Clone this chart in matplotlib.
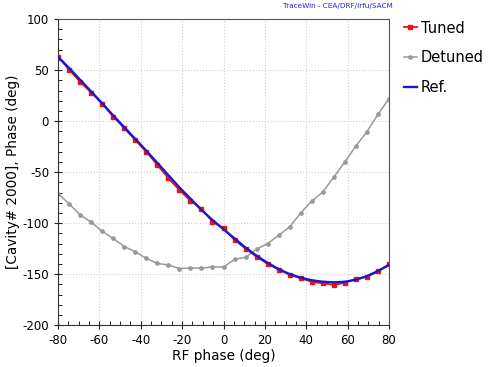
import matplotlib
matplotlib.use('Agg')
import matplotlib.pyplot as plt
import numpy as np
from matplotlib.ticker import MultipleLocator

plt.rcParams['font.family'] = 'DejaVu Sans'
plt.rcParams['axes.unicode_minus'] = False

# RF phase scan, 31 points from -80 to 80 deg
rf_phase = np.linspace(-80, 80, 31)

tuned = [63, 50.5, 38.5, 28, 17, 4.5, -7, -18.5, -30, -43, -56, -67.5, -78, -86,
         -98.5, -105, -116.5, -125, -133, -140, -145.5, -150.5, -154, -157.5,
         -159, -160.5, -158.5, -154.5, -152.5, -147, -140.5]

detuned = [-71, -81, -92, -99, -108, -115, -123, -128, -134.5, -139.5, -141,
           -144.5, -144, -144, -143, -143, -135.5, -133.5, -125.5, -120, -112,
           -103.5, -90, -78.5, -69.5, -55, -40, -24.5, -10.5, 6.5, 22]

ref = [63, 52, 40.5, 29, 17.5, 5.5, -6, -17.5, -29, -41, -53, -65, -76, -87,
       -97, -106, -115, -124, -132, -139, -145, -150, -153.5, -156, -157.5,
       -158, -157.5, -155.5, -152, -147, -141]

fig = plt.figure(figsize=(4.88, 3.67), dpi=100)
ax = fig.add_axes([0.119, 0.114, 0.678, 0.834])

ax.plot(rf_phase, tuned, color='#ee1111', lw=1.3, marker='s', ms=2.2,
        label='Tuned', zorder=3)
ax.plot(rf_phase, detuned, color='#999999', lw=1.1, marker='o', ms=2.4,
        label='Detuned', zorder=2)
ax.plot(rf_phase, ref, color='#1a1acc', lw=1.7, label='Ref.', zorder=4)

ax.set_xlim(-80, 80)
ax.set_ylim(-200, 100)
ax.xaxis.set_major_locator(MultipleLocator(20))
ax.xaxis.set_minor_locator(MultipleLocator(5))
ax.yaxis.set_major_locator(MultipleLocator(50))
ax.yaxis.set_minor_locator(MultipleLocator(10))
ax.tick_params(which='major', direction='inout', length=6, width=0.8,
               labelsize=8.5, colors='#222222', labelcolor='black')
ax.tick_params(which='minor', direction='in', length=3, width=0.7,
               colors='#222222')
ax.tick_params(top=False, right=False)
ax.grid(True, which='major', color='#d0d0d0', ls=':', lw=0.8)

for side in ['left', 'bottom']:
    ax.spines[side].set_color('#333333')
for side in ['top', 'right']:
    ax.spines[side].set_color('#555555')
    ax.spines[side].set_linewidth(0.8)

ax.set_xlabel('RF phase (deg)', fontsize=9.8, labelpad=1)
ax.set_ylabel('[Cavity# 2000], Phase (deg)', fontsize=9.8, labelpad=2)

fig.legend(loc='upper left', bbox_to_anchor=(0.815, 0.96), frameon=False,
           fontsize=10.5, handlelength=0.9, handletextpad=0.3,
           labelspacing=1.0, borderaxespad=0)

fig.text(0.692, 0.983, 'TraceWin - CEA/DRF/Irfu/SACM', color='#2222dd',
         fontsize=5.2, ha='center', va='center')

fig.savefig('out.png', dpi=100)
